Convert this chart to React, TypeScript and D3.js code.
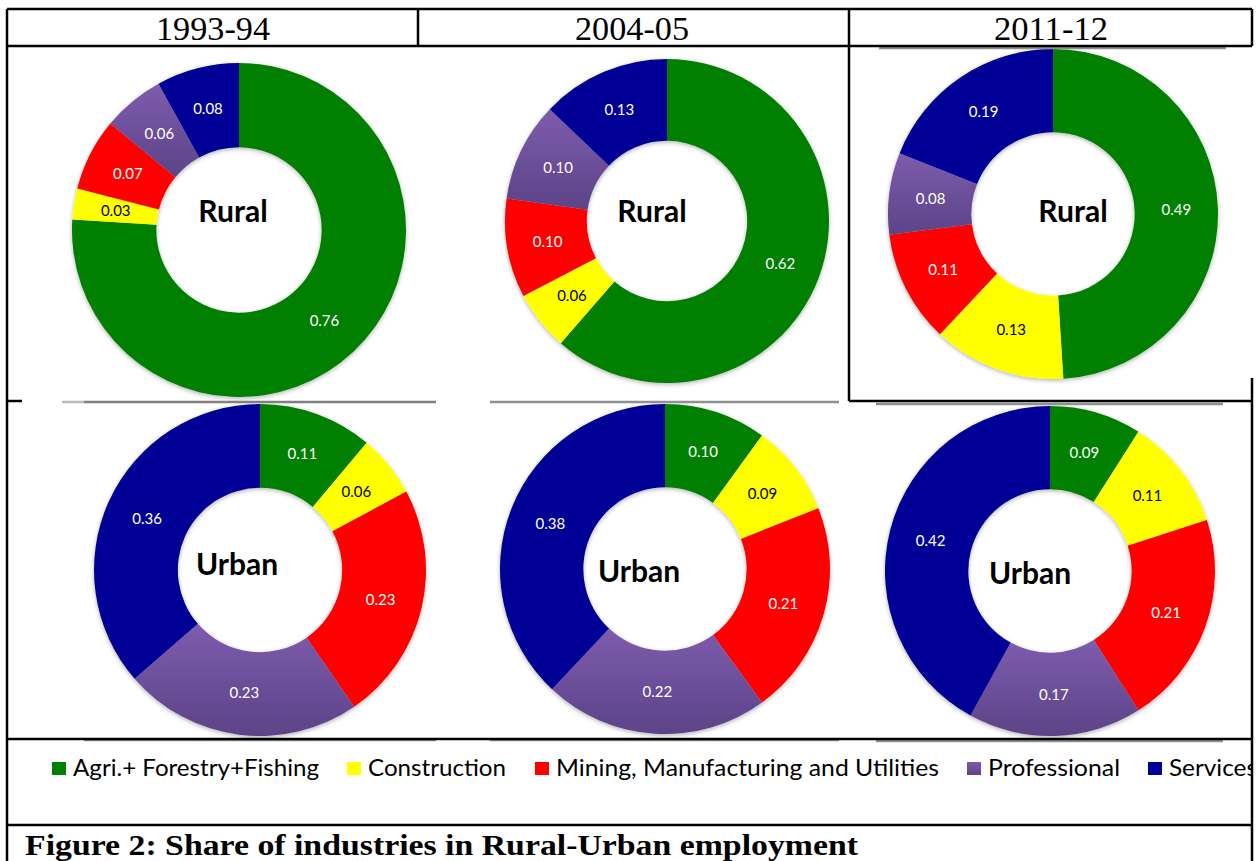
import * as d3 from "d3";

// industry categories, in the order slices run clockwise from 12 o'clock
const categories = [
  "Agri.+ Forestry+Fishing",
  "Construction",
  "Mining, Manufacturing and Utilities",
  "Professional",
  "Services",
];
const colors = ["#007f00", "#ffff00", "#ff0000", "#7152a0", "#000096"];
const labelColors = ["#fff", "#000", "#fff", "#fff", "#fff"];

const periods = ["1993-94", "2004-05", "2011-12"];

// share of employment
const rural1993 = [0.76, 0.03, 0.07, 0.06, 0.08];
const rural2004 = [0.62, 0.06, 0.1, 0.1, 0.13];
const rural2011 = [0.49, 0.13, 0.11, 0.08, 0.19];
const urban1993 = [0.11, 0.06, 0.23, 0.23, 0.36];
const urban2004 = [0.1, 0.09, 0.21, 0.22, 0.38];
const urban2011 = [0.09, 0.11, 0.21, 0.17, 0.42];

const width = 1260,
  height = 861;

// where each ring sits on the page (the pictures were pasted in by hand)
const panels = [
  { name: "Rural", values: rural1993, cx: 239, cy: 230, r: 167, lx: -6, ly: -8 },
  { name: "Rural", values: rural2004, cx: 667, cy: 221, r: 162, lx: -15, ly: 1 },
  { name: "Rural", values: rural2011, cx: 1053, cy: 214, r: 165, lx: 20, ly: 8 },
  { name: "Urban", values: urban1993, cx: 260, cy: 570, r: 166, lx: -23, ly: 5 },
  { name: "Urban", values: urban2004, cx: 665, cy: 569, r: 165, lx: -26, ly: 13 },
  { name: "Urban", values: urban2011, cx: 1050, cy: 571, r: 165, lx: -20, ly: 13 },
];

const headerX = [213, 632, 1051];
const legendX = [52, 347, 535, 967, 1148];
const legendWidths = [246, 138, 383, 132, 88];

// table rules
const blackLines = [
  [7, 9, 1252, 9],
  [7, 46, 1252, 46],
  [7, 9, 7, 861],
  [418, 9, 418, 46],
  [849, 9, 849, 401],
  [1252, 9, 1252, 46],
  [1252, 378, 1252, 861],
  [7, 401, 22, 401],
  [849, 401, 1252, 401],
  [7, 739, 1252, 739],
  [7, 825, 1252, 825],
];
// grey edges of the pasted pictures
const greyLines = [
  [62, 402, 84, 402, "#bbb"],
  [84, 402, 436, 402, "#808080"],
  [490, 402, 839, 402, "#909090"],
  [879, 48, 1226, 48, "#909090"],
  [876, 404, 1223, 404, "#909090"],
  [84, 740, 436, 740, "#909090"],
  [490, 740, 839, 740, "#909090"],
  [876, 741, 1223, 741, "#909090"],
];

const fmt = d3.format(".2f");

const Donut = ({ p }) => {
  const pie = d3.pie<number>().sort(null).value((d) => d);
  const arcs = pie(p.values);
  const inner = p.r * 0.495;
  const arc = d3.arc().innerRadius(inner).outerRadius(p.r);
  return (
    <g transform={`translate(${p.cx},${p.cy})`}>
      <g filter="url(#ringShadow)">
        {arcs.map((a, j) => (
          <path
            key={j}
            d={arc(a)}
            fill={j === 3 ? "url(#purpleGrad)" : colors[j]}
          />
        ))}
      </g>
      <g fontFamily="Lato, 'Open Sans', sans-serif" fontSize={15} textAnchor="middle">
        {arcs.map((a, j) => {
          const [x, y] = arc.centroid(a);
          return (
            <text key={j} x={x} y={y} dy="0.35em" fill={labelColors[j]}>
              {fmt(p.values[j])}
            </text>
          );
        })}
      </g>
      <text
        x={p.lx}
        y={p.ly}
        textAnchor="middle"
        fontFamily="Lato, 'Open Sans', sans-serif"
        fontWeight={700}
        fontSize={30}
        fill="#000"
      >
        {p.name}
      </text>
    </g>
  );
};

const App = () => {
  return (
    <svg
      width={width}
      height={height}
      style={{ position: "absolute", left: 0, top: 0, background: "#fff" }}
    >
      <defs>
        <linearGradient id="purpleGrad" x1="0" y1="0" x2="0" y2="1">
          <stop offset="0%" stopColor="#7d5cad" />
          <stop offset="100%" stopColor="#5c4387" />
        </linearGradient>
        <filter id="ringShadow" x="-10%" y="-10%" width="120%" height="120%">
          <feDropShadow dx="0" dy="1.5" stdDeviation="2" floodColor="#000" floodOpacity="0.3" />
        </filter>
        <clipPath id="pageClip">
          <rect x={0} y={0} width={1252} height={height} />
        </clipPath>
      </defs>

      {panels.map((p, i) => (
        <Donut key={i} p={p} />
      ))}

      <g>
        {greyLines.map(([x1, y1, x2, y2, c], i) => (
          <line key={i} x1={x1} y1={y1} x2={x2} y2={y2} stroke={c} strokeWidth={2.5} />
        ))}
      </g>
      <g stroke="#000" strokeWidth={2.5}>
        {blackLines.map(([x1, y1, x2, y2], i) => (
          <line key={i} x1={x1} y1={y1} x2={x2} y2={y2} />
        ))}
      </g>

      <g fontFamily="'Liberation Serif', 'Times New Roman', serif" fontSize={34} textAnchor="middle">
        {periods.map((t, i) => (
          <text key={t} x={headerX[i]} y={40} textLength={114} lengthAdjust="spacingAndGlyphs">
            {t}
          </text>
        ))}
      </g>

      <g clipPath="url(#pageClip)" fontFamily="Lato, 'Open Sans', sans-serif" fontSize={23} fill="#000">
        {categories.map((c, i) => (
          <g key={c}>
            <rect
              x={legendX[i]}
              y={762}
              width={14}
              height={13}
              fill={i === 3 ? "url(#purpleGrad)" : colors[i]}
            />
            <text
              x={legendX[i] + 21}
              y={776}
              textLength={legendWidths[i]}
              lengthAdjust="spacingAndGlyphs"
            >
              {c}
            </text>
          </g>
        ))}
      </g>

      <text
        x={25}
        y={855}
        fontFamily="'Liberation Serif', 'Times New Roman', serif"
        fontWeight={700}
        fontSize={30}
        textLength={833}
        lengthAdjust="spacingAndGlyphs"
      >
        Figure 2: Share of industries in Rural-Urban employment
      </text>
    </svg>
  );
};

export default App;
